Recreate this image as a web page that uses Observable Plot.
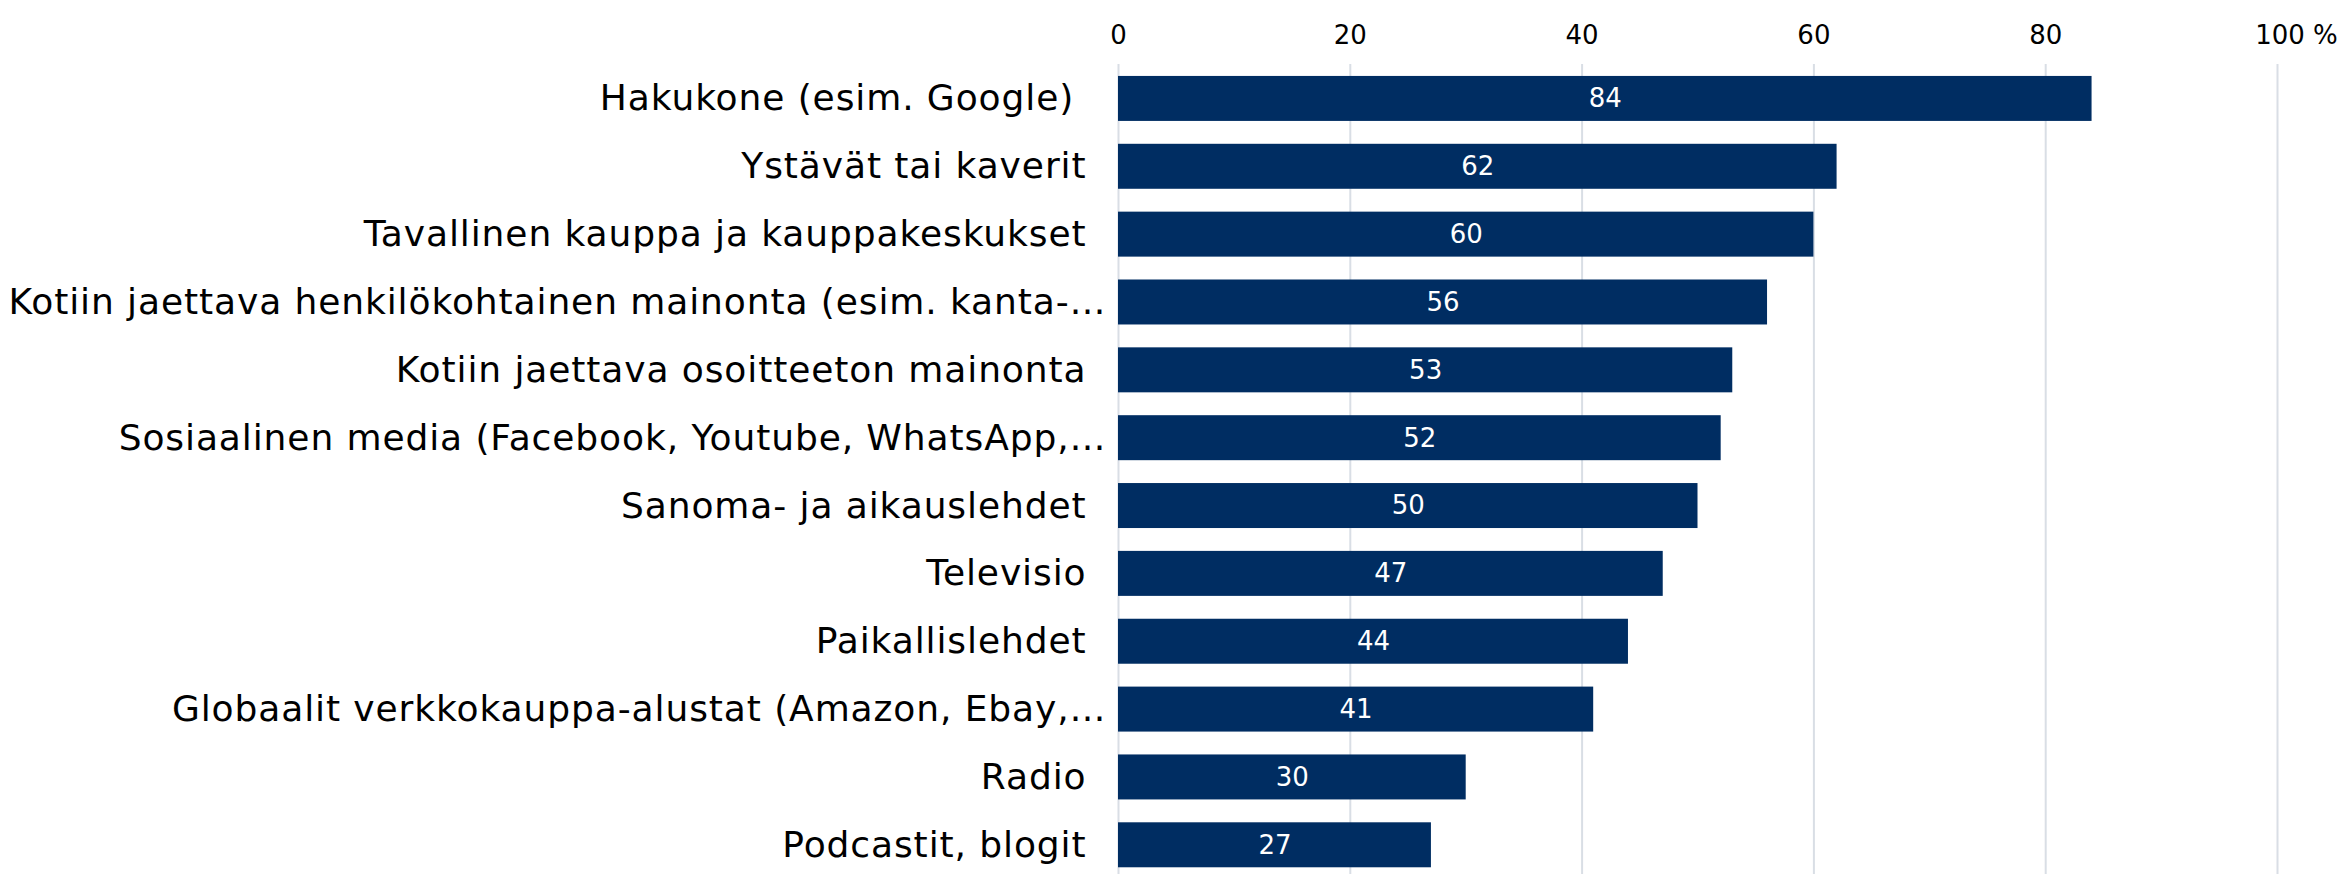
<!DOCTYPE html>
<html>
<head>
<meta charset="utf-8">
<script src="https://cdn.jsdelivr.net/npm/d3@7"></script>
<script src="https://cdn.jsdelivr.net/npm/@observablehq/plot@0.6"></script>
<style>
  html, body { margin: 0; padding: 0; background: #ffffff; }
  #chart svg text { white-space: pre; }
  #chart svg g[aria-label="y-axis tick label"] text { letter-spacing: 0.9px; }
</style>
</head>
<body>
<div id="chart"></div>
<script>
const categories = [
  "Hakukone (esim. Google) ",
  "Ystävät tai kaverit",
  "Tavallinen kauppa ja kauppakeskukset",
  "Kotiin jaettava henkilökohtainen mainonta (esim. kanta-…",
  "Kotiin jaettava osoitteeton mainonta",
  "Sosiaalinen media (Facebook, Youtube, WhatsApp,…",
  "Sanoma- ja aikauslehdet",
  "Televisio",
  "Paikallislehdet",
  "Globaalit verkkokauppa-alustat (Amazon, Ebay,…",
  "Radio",
  "Podcastit, blogit"
];
const values = [84, 62, 60, 56, 53, 52, 50, 47, 44, 41, 30, 27];
const truncatedCategories = [
  "Kotiin jaettava henkilökohtainen mainonta (esim. kanta-…",
  "Sosiaalinen media (Facebook, Youtube, WhatsApp,…",
  "Globaalit verkkokauppa-alustat (Amazon, Ebay,…"
];
const xTicks = [0, 20, 40, 60, 80, 100];
const xTickLabels = ["0", "20", "40", "60", "80", "100 %"];

const data = categories.map((c, i) => ({category: c, value: values[i]}));
const normalCategories = categories.filter(c => !truncatedCategories.includes(c));

const chart = Plot.plot({
  width: 2344,
  height: 874,
  marginLeft: 1118,
  marginRight: 67,
  marginTop: 64,
  marginBottom: 0,
  style: {fontFamily: "'DejaVu Sans', sans-serif", color: "#000000", background: "#ffffff"},
  x: {domain: [0, 100], axis: null},
  y: {domain: categories, paddingInner: 0.337, paddingOuter: 0.1375, align: 0.64, round: false, axis: null},
  marks: [
    Plot.ruleX(xTicks, {stroke: "#d9dee5", strokeWidth: 2}),
    Plot.barX(data, {x: "value", y: "category", fill: "#002d62"}),
    Plot.text(data, {x: d => d.value / 2, y: "category", text: d => String(d.value), fill: "#ffffff", fontSize: 26}),
    Plot.axisX({anchor: "top", ticks: xTicks.slice(0, 5), tickFormat: (d) => xTickLabels[xTicks.indexOf(d)], tickSize: 0, tickPadding: 21, fontSize: 26, label: null}),
    Plot.axisX({anchor: "top", ticks: xTicks.slice(5), tickFormat: (d) => xTickLabels[xTicks.indexOf(d)], tickSize: 0, tickPadding: 21, fontSize: 26, dx: 19, label: null}),
    Plot.axisY({ticks: normalCategories, tickSize: 0, tickPadding: 32, fontSize: 36, label: null}),
    Plot.axisY({ticks: truncatedCategories, tickSize: 0, tickPadding: 12, fontSize: 36, label: null})
  ]
});
document.getElementById("chart").appendChild(chart);
</script>
</body>
</html>
